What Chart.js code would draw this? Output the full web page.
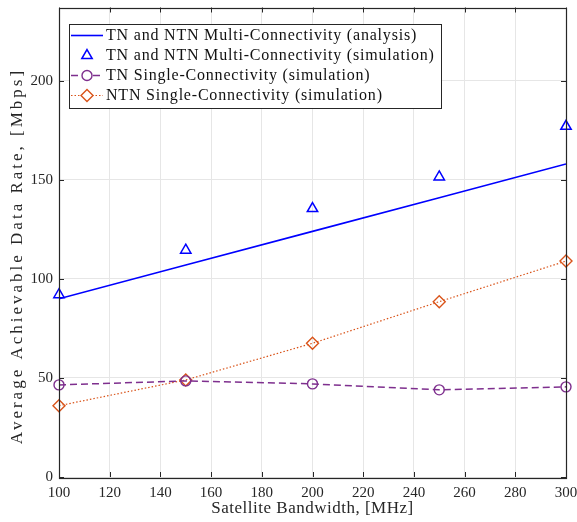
<!DOCTYPE html>
<html>
<head>
<meta charset="utf-8">
<script src="https://cdn.jsdelivr.net/npm/chart.js@4"></script>
<style>
  html, body { margin: 0; padding: 0; background: #fff; }
  #wrap { width: 577px; height: 522px; }
</style>
</head>
<body>
<div id="wrap"><canvas id="rateChart" width="577" height="522"></canvas></div>
<script>
// bandwidth values (MHz)
const bandwidth = [100, 150, 200, 250, 300];
// (Mbps)
const multiAnalysis = [90, 107, 124, 141, 158];
const multiSim = [92, 114.5, 135.5, 151.5, 177];
const tnSingle = [46.5, 48.5, 47, 44, 45.5];
const ntnSingle = [36, 49, 67.5, 88.5, 109];

const legendLabels = [
  'TN and NTN Multi-Connectivity (analysis)',
  'TN and NTN Multi-Connectivity (simulation)',
  'TN Single-Connectivity (simulation)',
  'NTN Single-Connectivity (simulation)'
];
const xTitle = 'Satellite Bandwidth, [MHz]';
const yTitle = 'Average Achievable Data Rate, [Mbps]';

const xTicks = [100, 120, 140, 160, 180, 200, 220, 240, 260, 280, 300];
const yTicks = [0, 50, 100, 150, 200];

const serif = '"Liberation Serif", "DejaVu Serif", serif';
const axisColor = '#262626';

function pts(ys) {
  return bandwidth.map((x, i) => ({ x: x, y: ys[i] }));
}

// box + inward ticks on all four sides, like MATLAB, plus axis titles
const boxPlugin = {
  id: 'boxPlugin',
  afterDatasetsDraw(chart) {
    const { ctx, chartArea: a, scales } = chart;
    ctx.save();
    ctx.strokeStyle = axisColor;
    ctx.lineWidth = 1;
    const tl = 5;
    ctx.beginPath();
    xTicks.forEach(v => {
      const px = Math.round(scales.x.getPixelForValue(v)) + 0.5;
      ctx.moveTo(px, a.bottom); ctx.lineTo(px, a.bottom - tl);
      ctx.moveTo(px, a.top); ctx.lineTo(px, a.top + tl);
    });
    yTicks.forEach(v => {
      const py = Math.round(scales.y.getPixelForValue(v)) + 0.5;
      ctx.moveTo(a.left, py); ctx.lineTo(a.left + tl, py);
      ctx.moveTo(a.right, py); ctx.lineTo(a.right - tl, py);
    });
    ctx.stroke();
    ctx.lineWidth = 1.2;
    ctx.strokeRect(Math.round(a.left) + 0.5, Math.round(a.top) + 0.5,
      Math.round(a.right - a.left), Math.round(a.bottom - a.top));

    // titles
    ctx.fillStyle = axisColor;
    ctx.textAlign = 'center';
    ctx.textBaseline = 'middle';
    ctx.font = '17px ' + serif;
    ctx.letterSpacing = '0.5px';
    ctx.fillText(xTitle, (a.left + a.right) / 2, 509);
    ctx.translate(18, 256);
    ctx.rotate(-Math.PI / 2);
    ctx.letterSpacing = '3px';
    ctx.fillText(yTitle, 0, 0);
    ctx.letterSpacing = '0px';
    ctx.restore();
  }
};

// legend box drawn inside the plot, top-left
const legendPlugin = {
  id: 'boxLegend',
  afterDraw(chart) {
    const ctx = chart.ctx;
    const bx = 69.5, by = 24.5, bw = 372, bh = 84;
    ctx.save();
    ctx.fillStyle = '#fff';
    ctx.fillRect(bx, by, bw, bh);
    ctx.strokeStyle = axisColor;
    ctx.lineWidth = 1;
    ctx.strokeRect(bx, by, bw, bh);
    chart.data.datasets.forEach((ds, i) => {
      const y = 35.5 + i * 20;
      if (ds.showLine !== false) {
        ctx.strokeStyle = ds.borderColor;
        ctx.lineWidth = ds.borderWidth;
        ctx.setLineDash(ds.borderDash || []);
        ctx.beginPath();
        ctx.moveTo(71, y); ctx.lineTo(103, y);
        ctx.stroke();
        ctx.setLineDash([]);
      }
      if (ds.pointRadius > 0) {
        ctx.strokeStyle = ds.borderColor;
        ctx.fillStyle = '#fff';
        ctx.lineWidth = ds.pointBorderWidth;
        Chart.helpers.drawPoint(ctx, {
          pointStyle: ds.pointStyle,
          radius: ds.pointRadius,
          borderWidth: ds.pointBorderWidth
        }, 87, y);
      }
      ctx.fillStyle = '#111';
      ctx.font = '16px ' + serif;
      ctx.letterSpacing = '0.8px';
      ctx.textBaseline = 'middle';
      ctx.textAlign = 'left';
      ctx.fillText(legendLabels[i], 106, y);
      ctx.letterSpacing = '0px';
    });
    ctx.restore();
  }
};

const ctx = document.getElementById('rateChart').getContext('2d');
const chart = new Chart(ctx, {
  type: 'scatter',
  data: {
    datasets: [
      {
        label: legendLabels[0],
        data: pts(multiAnalysis),
        showLine: true,
        borderColor: '#0000ff',
        backgroundColor: '#0000ff',
        borderWidth: 1.6,
        pointRadius: 0
      },
      {
        label: legendLabels[1],
        data: pts(multiSim),
        showLine: false,
        clip: false,
        borderColor: '#0000ff',
        backgroundColor: 'rgba(0,0,0,0)',
        pointStyle: 'triangle',
        pointRadius: 6,
        pointBorderWidth: 1.5
      },
      {
        label: legendLabels[2],
        data: pts(tnSingle),
        showLine: true,
        clip: false,
        borderColor: '#7E2F8E',
        backgroundColor: 'rgba(0,0,0,0)',
        borderWidth: 1.5,
        borderDash: [7, 4],
        pointStyle: 'circle',
        pointRadius: 5,
        pointBorderWidth: 1.4
      },
      {
        label: legendLabels[3],
        data: pts(ntnSingle),
        showLine: true,
        clip: false,
        borderColor: '#D95319',
        backgroundColor: 'rgba(0,0,0,0)',
        borderWidth: 1.2,
        borderDash: [1.5, 2],
        pointStyle: 'rectRot',
        pointRadius: 6,
        pointBorderWidth: 1.4
      }
    ]
  },
  options: {
    responsive: false,
    animation: false,
    layout: { padding: { top: 7, right: 11, left: 0, bottom: 0 } },
    plugins: {
      legend: { display: false },
      tooltip: { enabled: false }
    },
    scales: {
      x: {
        type: 'linear',
        min: 100,
        max: 300,
        afterFit(s) { s.height = 45; s.paddingLeft = 0; s.paddingRight = 0; },
        afterBuildTicks(s) { s.ticks = xTicks.map(v => ({ value: v })); },
        grid: { color: '#e6e6e6', drawTicks: false },
        border: { display: false },
        ticks: {
          padding: 7,
          color: '#262626',
          font: { family: serif, size: 15 },
          maxRotation: 0
        },
        title: { display: false }
      },
      y: {
        type: 'linear',
        min: 0,
        max: 237,
        afterFit(s) { s.width = 59; s.paddingTop = 0; s.paddingBottom = 0; },
        afterBuildTicks(s) { s.ticks = yTicks.map(v => ({ value: v })); },
        grid: { color: '#e6e6e6', drawTicks: false },
        border: { display: false },
        ticks: {
          padding: 6,
          color: '#262626',
          font: { family: serif, size: 15 }
        },
        title: { display: false }
      }
    }
  },
  plugins: [boxPlugin, legendPlugin]
});
</script>
</body>
</html>
